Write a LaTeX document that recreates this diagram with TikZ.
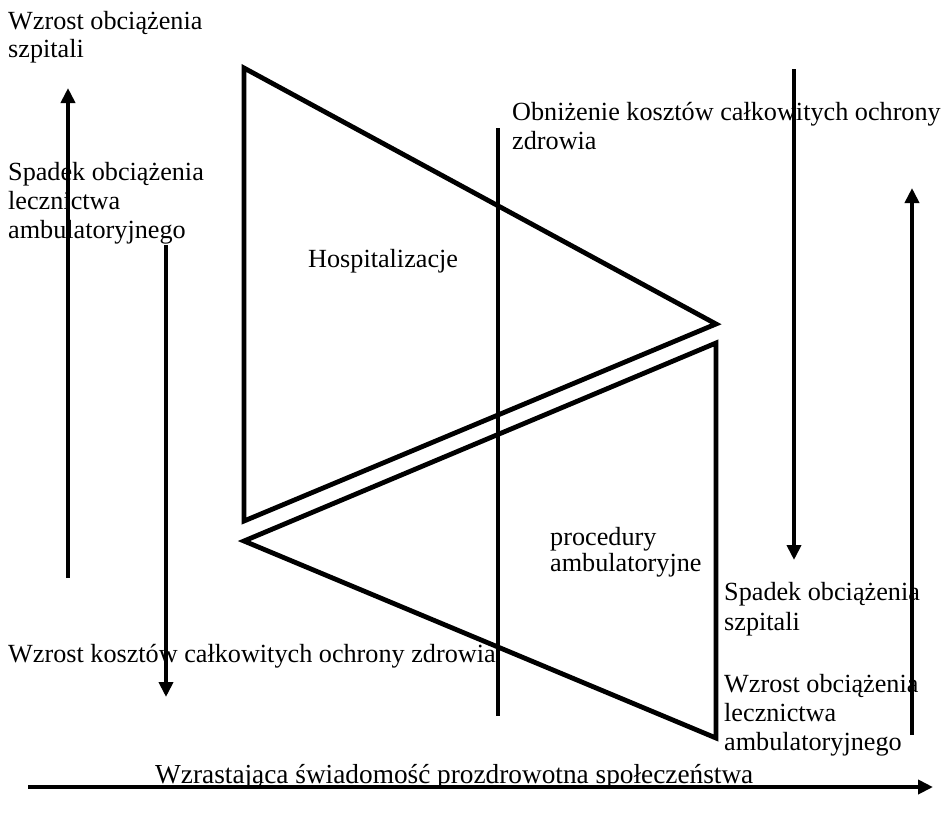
\documentclass[tikz,border=0pt]{standalone}
\usepackage{fontspec}
\usepackage{graphicx}
\setmainfont{Liberation Serif}
\usetikzlibrary{arrows.meta}
\newcommand{\blk}[2][29pt]{\vtop{\baselineskip=#1\relax\lineskiplimit=-100pt\halign{##\hfil\cr #2\crcr}}}
\begin{document}
\begin{tikzpicture}[x=1pt,y=-1pt,
  txt/.style={anchor=base west,inner sep=0pt,font=\fontsize{26.2}{29}\selectfont},
  thick line/.style={line width=4.8pt},
  arr/.style={line width=4.8pt,-{Triangle[width=14pt,length=15pt]}}]
\useasboundingbox (0,0) rectangle (941,820);
% texts
\node[txt] (t1) at (8,29) {\blk[28pt]{Wzrost obciążenia\cr szpitali}};
\node[txt] (t2) at (8,180) {\blk{Spadek obciążenia\cr lecznictwa\cr ambulatoryjnego}};
\node[txt] (t3) at (512,120) {\blk{Obniżenie kosztów całkowitych ochrony\cr zdrowia}};
\node[txt] (t4) at (308,267) {Hospitalizacje};
\node[txt] (t5) at (550,545) {\blk[26pt]{procedury\cr ambulatoryjne}};
\node[txt] (t6) at (724,600) {\blk[30pt]{Spadek obciążenia\cr szpitali}};
\node[txt] (t7) at (724,692) {\blk{Wzrost obciążenia\cr lecznictwa\cr ambulatoryjnego}};
\node[txt] (t8) at (8,662) {Wzrost kosztów całkowitych ochrony zdrowia};
\node[txt] (t9) at (155,783) {\scalebox{1.042}[1.05]{Wzrastająca świadomość prozdrowotna społeczeństwa}};
% triangles
\draw[thick line] (244,68) -- (716,324) -- (244,521) -- cycle;
\draw[thick line] (716,343) -- (716,738) -- (244,541) -- cycle;
% vertical middle line
\coordinate (m1) at (498,128);
\coordinate (m2) at (498,716);
\draw[thick line] (m1) -- (m2);
% arrows
\coordinate (a1s) at (68,578); \coordinate (a1e) at (68,88);
\coordinate (a2s) at (166,245); \coordinate (a2e) at (166,697);
\coordinate (a3s) at (794,69); \coordinate (a3e) at (794,560);
\coordinate (a4s) at (912,735); \coordinate (a4e) at (912,188);
\coordinate (a5s) at (28,787); \coordinate (a5e) at (933,787);
\draw[arr] (a1s) -- (a1e);
\draw[arr] (a2s) -- (a2e);
\draw[arr] (a3s) -- (a3e);
\draw[arr] (a4s) -- (a4e);
\draw[arr] (a5s) -- (a5e);
\end{tikzpicture}
\end{document}
